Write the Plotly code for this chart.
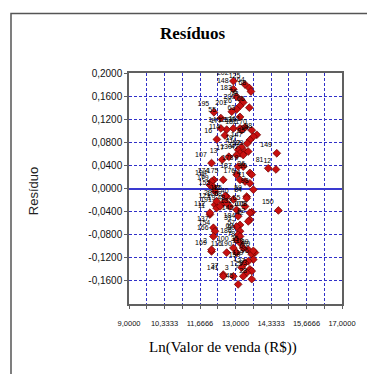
import plotly.graph_objects as go

# Data (Ln(Valor de venda) vs Resíduo)
x_vals = [12.92, 13.36, 13.52, 13.58, 12.92, 13.04, 13.23, 13.29, 13.17, 13.52,
          13.04, 12.19, 12.86, 13.17, 12.45, 12.92, 13.17, 13.36, 13.61, 13.80,
          13.67, 13.54, 12.67, 12.45, 13.23, 13.44, 13.23, 13.10, 13.36, 13.48,
          13.17, 13.29, 13.04, 14.55, 12.10, 13.10, 13.29, 14.23, 14.52, 13.54,
          13.04, 13.61, 12.19, 12.10, 12.04, 12.23, 12.54, 13.17, 13.36, 13.54,
          13.67, 13.42, 12.67, 12.92, 12.54, 12.23, 12.79, 13.04, 13.36, 12.29,
          12.42, 14.61, 13.61, 12.04, 13.54, 13.10, 12.17, 13.17, 13.17, 13.10,
          13.17, 13.04, 13.17, 12.10, 12.92, 13.29, 13.48, 13.73, 13.61, 13.04,
          12.67, 13.67, 13.48, 13.36, 13.23, 13.54, 13.61, 12.54, 13.42, 13.29,
          13.61, 13.10, 12.92, 12.17, 12.61, 13.42, 12.29, 12.67, 12.04, 13.54,
          13.48, 12.23, 12.17, 13.04, 12.10, 13.67, 12.54, 12.50, 12.75, 12.30,
          12.60]
y_vals = [0.186, 0.180, 0.174, 0.168, 0.172, 0.159, 0.153, 0.149, 0.143, 0.140,
          0.137, 0.132, 0.133, 0.124, 0.122, 0.104, 0.104, 0.106, 0.101, 0.093,
          0.090, 0.084, 0.102, 0.104, 0.101, 0.078, 0.072, 0.067, 0.064, 0.064,
          0.061, 0.058, 0.058, 0.061, 0.044, 0.038, 0.038, 0.035, 0.033, 0.027,
          0.024, 0.024, 0.015, 0.012, 0.006, -0.005, 0.015, 0.015, 0.012, 0.009,
          -0.002, -0.014, -0.014, -0.019, -0.025, -0.028, -0.031, -0.037, -0.031, -0.034,
          -0.031, -0.038, -0.041, -0.045, -0.054, -0.048, -0.068, -0.063, -0.074, -0.080,
          -0.083, -0.089, -0.094, -0.109, -0.103, -0.103, -0.106, -0.111, -0.114, -0.111,
          -0.111, -0.123, -0.126, -0.129, -0.137, -0.140, -0.143, -0.149, -0.146, -0.152,
          -0.157, -0.166, -0.152, 0.003, -0.013, -0.017, -0.022, -0.025, -0.042, -0.042,
          -0.057, -0.074, -0.083, -0.066, -0.106, -0.108, -0.152, 0.050, 0.055, 0.085,
          0.092]
point_labels = ["202", "125", "64", "68", "148", "183", "76", "73", "200", "66",
                "26", "195", "201", "63", "55", "115", "138", "161", "170", "88",
                "94", "85", "177", "14", "182", "147", "197", "41", "52", "99",
                "33", "47", "130", "149", "107", "178", "9", "81", "12", "36",
                "187", "10", "174", "194", "6", "155", "175", "176", "74", "71",
                "98", "59", "185", "40", "120", "121", "48", "132", "65", "191",
                "19", "150", "103", "11", "92", "145", "137", "184", "57", "62",
                "80", "186", "78", "169", "100", "35", "110", "79", "60", "190",
                "116", "96", "119", "199", "1", "27", "93", "37", "173", "7",
                "28", "45", "3", "179", "43", "84", "23", "58", "112", "105",
                "42", "154", "166", "31", "2", "89", "141", "13", "17", "16",
                "114"]

x_tickvals = [9.0, 9.6667, 10.3333, 11.0, 11.6666, 12.3333, 13.0, 13.6667,
              14.3333, 15.0, 15.6666, 16.3333, 17.0]
x_ticktext = ["9,0000", "", "10,3333", "", "11,6666", "", "13,0000", "",
              "14,3333", "", "15,6666", "", "17,0000"]
y_tickvals = [0.2, 0.16, 0.12, 0.08, 0.04, 0.0, -0.04, -0.08, -0.12, -0.16]
y_ticktext = ["0,2000", "0,1600", "0,1200", "0,0800", "0,0400", "0,0000",
              "-0,0400", "-0,0800", "-0,1200", "-0,1600"]

title_text = "Resíduos"
x_title = "Ln(Valor de venda (R$))"
y_title = "Resíduo"

fig = go.Figure()
fig.add_trace(go.Scatter(
    x=x_vals, y=y_vals, mode="markers+text", text=point_labels,
    textposition="top left",
    textfont=dict(family="Liberation Sans", size=7, color="#000000"),
    marker=dict(symbol="diamond", size=6, color="#c81010",
                line=dict(color="#6a0000", width=0.7)),
    showlegend=False, cliponaxis=True,
))

grid_color = "#3030c8"
fig.update_xaxes(
    range=[9, 17], tickvals=x_tickvals, ticktext=x_ticktext,
    showgrid=True, gridcolor=grid_color, gridwidth=1, griddash="3px,2px",
    zeroline=False, showline=True, linecolor="#606060", linewidth=1.5,
    mirror=True, ticks="outside", ticklen=3, tickcolor="#606060",
    tickfont=dict(family="Liberation Sans", size=7.5, color="#111111"),
    ticklabelstandoff=8,
)
fig.update_yaxes(
    range=[-0.2, 0.2], tickvals=y_tickvals, ticktext=y_ticktext,
    showgrid=True, gridcolor=grid_color, gridwidth=1, griddash="3px,2px",
    zeroline=True, zerolinecolor="#3a3ad0", zerolinewidth=1.5,
    showline=True, linecolor="#606060", linewidth=1.5, mirror=True,
    ticks="outside", ticklen=3, tickcolor="#606060",
    tickfont=dict(family="Liberation Sans", size=10, color="#111111"),
)

# outer chart frame
fig.add_shape(type="rect", xref="paper", yref="paper",
              x0=-0.554, x1=2.0, y0=-1.5, y1=1.258,
              line=dict(color="#555555", width=1.5), layer="below")

fig.add_annotation(text="<b>" + title_text + "</b>", xref="paper", yref="paper",
                   x=(193 - 129) / 213, y=1 + (72.7 - 33) / 231.3,
                   showarrow=False, xanchor="center", yanchor="middle",
                   font=dict(family="Liberation Serif", size=17, color="#000000"))
fig.add_annotation(text=x_title, xref="paper", yref="paper",
                   x=(222.5 - 129) / 213, y=-(348 - 304) / 231.3,
                   showarrow=False, xanchor="center", yanchor="middle",
                   font=dict(family="Liberation Serif", size=15, color="#000000"))
fig.add_annotation(text=y_title, xref="paper", yref="paper",
                   x=(33 - 129) / 213, y=1 - (191 - 72.7) / 231.3,
                   showarrow=False, xanchor="center", yanchor="middle",
                   textangle=-90,
                   font=dict(family="Liberation Sans", size=13, color="#222222"))

fig.update_layout(
    width=367, height=374,
    margin=dict(l=129, r=25, t=73, b=70),
    paper_bgcolor="white", plot_bgcolor="white",
)

fig.write_html("out.html", config={"displayModeBar": False},
               post_script="document.body.style.margin='0';document.body.style.overflow='hidden';")
